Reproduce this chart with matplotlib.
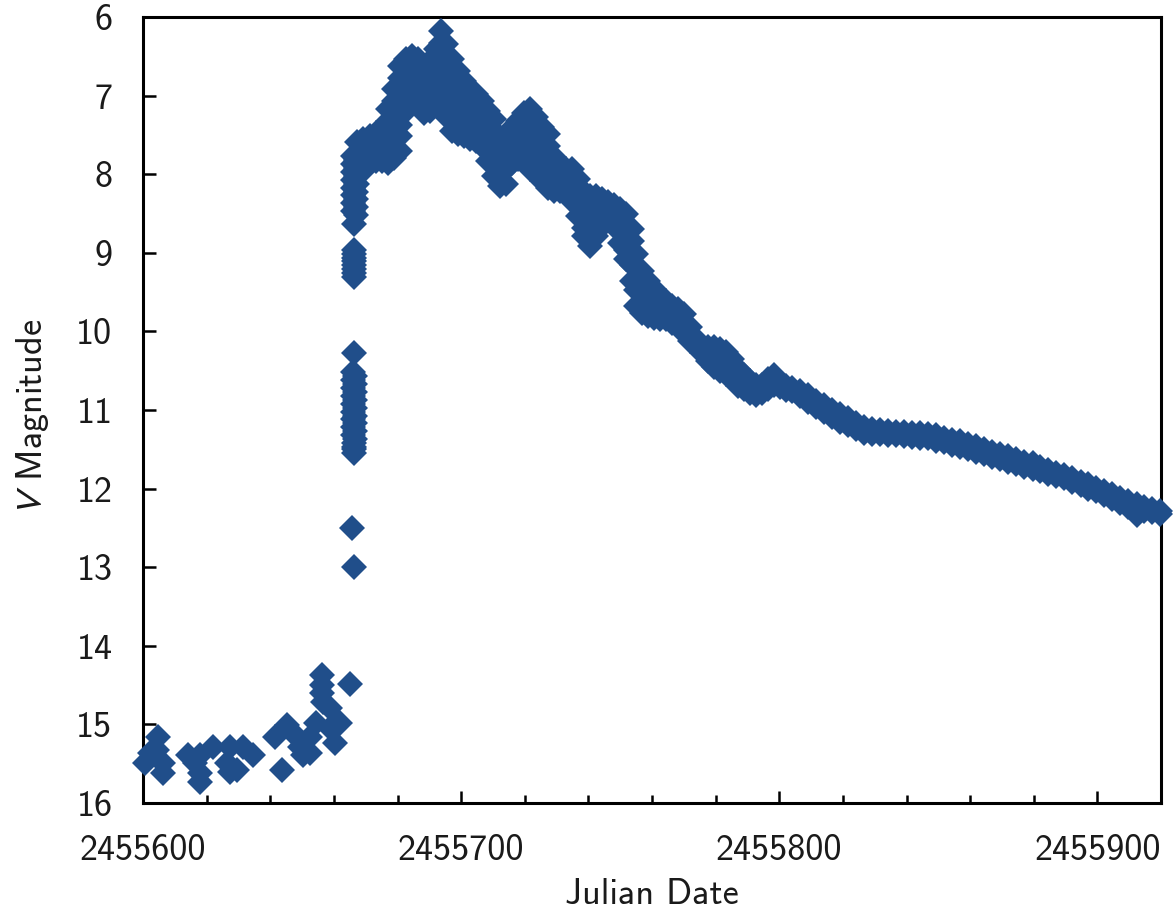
import numpy as np
import matplotlib
matplotlib.use("Agg")
import matplotlib.pyplot as plt
from matplotlib.ticker import MultipleLocator, FormatStrFormatter

# Light curve of the outburst, V band. Days are counted from JD 2455600.
JD_BASE = 2455600

# quiescence before the eruption
quiet_days = [0.6, 2.2, 4.4, 4.7, 6.3, 6.3,
              14.2, 16.4, 17.9, 17.9, 17.9, 22.0,
              26.4, 27.4, 27.4, 29.6, 31.4, 34.6,
              41.5, 43.7, 45.3, 48.4, 49.4, 50.3, 52.5, 52.5,
              56.3, 56.3, 56.3, 56.6, 58.8, 54.4, 58.8, 61.9, 60.4]
quiet_mag = [15.49, 15.36, 15.33, 15.16, 15.49, 15.62,
             15.39, 15.49, 15.39, 15.62, 15.73, 15.29,
             15.49, 15.29, 15.60, 15.58, 15.29, 15.39,
             15.16, 15.58, 15.01, 15.16, 15.29, 15.39, 15.36, 15.16,
             14.37, 14.50, 14.60, 14.71, 14.79, 14.98, 15.05, 14.98, 15.24]

# the fast rise (one night of dense coverage)
rise_days = [65.0, 66.3, 65.7, 66.3,
             66.0, 66.6, 66.0, 66.6, 66.0, 66.6, 66.0, 66.6, 66.0, 66.6, 66.0,
             66.6, 66.0, 66.6, 66.0, 66.6, 66.0, 66.6, 66.3,
             66.3, 66.3, 66.3, 66.3, 66.3, 66.3, 66.3, 66.3,
             66.0, 66.8, 66.0, 66.8, 66.0, 66.8, 66.0, 66.8, 66.0, 66.8,
             66.0, 66.8, 66.0, 66.8, 66.0, 66.8, 66.4]
rise_mag = [14.49, 13.00, 12.50, 10.27,
            10.52, 10.57, 10.62, 10.67, 10.72, 10.77, 10.82, 10.87, 10.92, 10.97, 11.02,
            11.07, 11.12, 11.17, 11.22, 11.27, 11.32, 11.37, 11.55, 
            8.96, 9.01, 9.06, 9.11, 9.16, 9.21, 9.26, 9.31,
            7.77, 7.82, 7.87, 7.92, 7.97, 8.02, 8.07, 8.12, 8.17, 8.22,
            8.27, 8.32, 8.37, 8.42, 8.47, 8.52, 8.63]
rise_days += [66.3, 66.3, 66.3]
rise_mag += [11.42, 11.47, 11.50]

# maximum and early decline: day -> magnitudes observed around that day
peak_obs = [
    (67.3, [7.59, 7.74, 7.89, 8.02, 8.12]),
    (69.2, [7.55, 7.70, 7.84, 7.96]),
    (71.4, [7.51, 7.66, 7.81]),
    (73.3, [7.48, 7.63, 7.77, 7.83]),
    (75.2, [7.45, 7.60, 7.72, 7.83]),
    (77.0, [7.17, 7.32, 7.47, 7.62, 7.76, 7.86]),
    (78.9, [6.92, 7.07, 7.22, 7.37, 7.52, 7.66, 7.79]),
    (80.8, [6.62, 6.77, 6.92, 7.07, 7.22, 7.37, 7.52, 7.70]),
    (82.7, [6.53, 6.68, 6.83, 6.98, 7.10, 7.20]),
    (84.6, [6.50, 6.65, 6.80, 6.95, 7.09]),
    (86.5, [6.53, 6.68, 6.83, 6.98, 7.11]),
    (88.4, [6.64, 6.79, 6.94, 7.09, 7.22]),
    (90.3, [6.56, 6.71, 6.86, 7.01, 7.20]),
    (92.1, [6.41, 6.56, 6.71, 6.88]),
    (93.7, [6.18, 6.33, 6.48, 6.62, 6.75]),
    (95.3, [6.34, 6.49, 6.64, 6.79, 6.94, 7.09, 7.26]),
    (97.2, [6.53, 6.68, 6.83, 6.98, 7.13, 7.28, 7.45]),
    (99.1, [6.69, 6.84, 6.99, 7.14, 7.29, 7.49]),
    (100.9, [6.81, 6.96, 7.11, 7.26, 7.41, 7.51]),
    (102.8, [6.92, 7.07, 7.22, 7.37, 7.55]),
    (104.7, [6.98, 7.13, 7.28, 7.43, 7.58]),
    (106.6, [7.07, 7.22, 7.37, 7.52, 7.64]),
    (108.5, [7.20, 7.35, 7.50, 7.65, 7.83]),
    (110.4, [7.30, 7.45, 7.60, 7.75, 7.90, 8.02]),
    (112.3, [7.55, 7.70, 7.85, 8.00, 8.15]),
    (114.2, [7.49, 7.64, 7.79, 7.94, 8.12]),
    (116.0, [7.42, 7.57, 7.72, 7.86]),
    (117.9, [7.32, 7.47, 7.62, 7.81]),
    (119.8, [7.22, 7.37, 7.52, 7.67, 7.83]),
    (121.7, [7.17, 7.32, 7.47, 7.62, 7.77, 7.93]),
    (123.6, [7.27, 7.42, 7.57, 7.72, 7.87, 8.00]),
    (125.5, [7.40, 7.55, 7.70, 7.85, 8.00, 8.09]),
    (127.4, [7.49, 7.64, 7.79, 7.94, 8.09, 8.18]),
    (129.2, [7.78, 7.93, 8.08, 8.21]),
    (131.1, [7.87, 8.02, 8.21]),
    (133.0, [7.93, 8.08, 8.25]),
    (134.9, [7.93, 8.08, 8.23, 8.34]),
    (136.8, [8.06, 8.21, 8.36, 8.53]),
    (138.7, [8.23, 8.38, 8.53, 8.68, 8.79]),
    (140.6, [8.28, 8.43, 8.58, 8.73, 8.91]),
    (142.5, [8.28, 8.43, 8.58, 8.79]),
    (144.3, [8.32, 8.47, 8.66]),
    (146.2, [8.35, 8.47, 8.57]),
    (148.1, [8.39, 8.51, 8.62]),
    (150.0, [8.44, 8.59, 8.74, 8.88]),
    (151.9, [8.51, 8.66, 8.81, 8.96, 9.08]),
    (153.8, [8.70, 8.85, 9.00, 9.15, 9.36]),
    (155.0, [9.02, 9.17, 9.32, 9.47, 9.68]),
    (156.9, [9.23, 9.38, 9.53, 9.77]),
    (158.8, [9.36, 9.51, 9.66, 9.80]),
    (160.7, [9.46, 9.61, 9.83]),
    (162.6, [9.55, 9.70, 9.84]),
    (164.5, [9.61, 9.72, 9.84]),
    (166.4, [9.68, 9.79, 9.89]),
    (168.2, [9.71, 9.82, 9.93]),
    (170.1, [9.78, 9.90, 10.02]),
    (172.0, [9.94, 10.12]),
    (173.9, [10.10, 10.19]),
    (175.8, [10.19, 10.27]),
    (177.7, [10.20, 10.38]),
    (179.6, [10.20, 10.32, 10.45]),
    (181.4, [10.22, 10.36, 10.50]),
    (183.3, [10.26, 10.40, 10.54]),
    (185.2, [10.35, 10.48, 10.61]),
    (187.1, [10.48, 10.59, 10.69]),
    (189.0, [10.55, 10.64, 10.73]),
    (190.9, [10.63, 10.78]),
    (192.8, [10.68, 10.81]),
    (194.7, [10.68, 10.78]),
    (196.5, [10.61, 10.73]),
    (198.4, [10.55, 10.68]),
    (200.3, [10.66, 10.71]),
    (202.2, [10.70, 10.74]),
    (204.1, [10.72, 10.76]),
    (206.6, [10.76, 10.82]),
]

# slow late decline: bright and faint end of the scatter
tail_days = [209.1, 211.6, 214.2, 216.7, 219.2, 221.7, 224.2, 226.7, 229.2, 231.8,
             234.3, 236.8, 239.3, 241.8, 244.3, 246.9, 249.4, 251.9, 254.4, 256.9,
             259.4, 261.9, 264.5, 267.0, 269.5, 272.0, 274.5, 277.0, 279.6, 282.1,
             284.6, 287.1, 289.6, 292.1, 294.7, 297.2, 299.7, 302.2, 304.7, 307.2,
             309.7, 312.3, 314.8, 317.3, 319.8]
tail_bright = [10.81, 10.88, 10.94, 11.00, 11.05, 11.10, 11.16, 11.21, 11.24, 11.25,
               11.27, 11.28, 11.28, 11.29, 11.29, 11.30, 11.32, 11.35, 11.38, 11.40,
               11.43, 11.46, 11.49, 11.53, 11.56, 11.59, 11.62, 11.66, 11.68, 11.72,
               11.76, 11.80, 11.83, 11.87, 11.91, 11.94, 11.99, 12.03, 12.07, 12.12,
               12.16, 12.20, 12.24, 12.26, 12.28]
tail_faint = [10.90, 10.96, 11.02, 11.09, 11.15, 11.19, 11.24, 11.29, 11.30, 11.31,
              11.32, 11.32, 11.33, 11.34, 11.35, 11.36, 11.39, 11.41, 11.44, 11.47,
              11.49, 11.53, 11.56, 11.60, 11.62, 11.66, 11.69, 11.72, 11.75, 11.78,
              11.81, 11.84, 11.87, 11.92, 11.96, 12.00, 12.03, 12.08, 12.13, 12.18,
              12.24, 12.33, 12.29, 12.30, 12.32]

# collect everything into one series
days = list(quiet_days) + list(rise_days)
mags = list(quiet_mag) + list(rise_mag)
for d, ms in peak_obs:
    days += [d] * len(ms)
    mags += ms
days += tail_days + tail_days
mags += tail_bright + tail_faint
jd = JD_BASE + np.array(days)
mags = np.array(mags)

plt.rcParams['font.family'] = ['cmss10', 'DejaVu Sans']
plt.rcParams['mathtext.fontset'] = 'stixsans'
plt.rcParams['axes.unicode_minus'] = False
text_col = '#1a1a1a'

fig = plt.figure(figsize=(11.73, 9.14), dpi=100)
ax = fig.add_axes([0.1219, 0.1214, 0.8679, 0.8600])

ax.plot(jd, mags, linestyle='none', marker='D', markersize=13,
        markeredgewidth=0, color='#204e8a', clip_on=False, zorder=3)

ax.set_xlim(2455600, 2455920)
ax.set_ylim(16, 6)
ax.xaxis.set_major_locator(MultipleLocator(100))
ax.xaxis.set_minor_locator(MultipleLocator(20))
ax.xaxis.set_major_formatter(FormatStrFormatter('%d'))
ax.yaxis.set_major_locator(MultipleLocator(1))

for s in ax.spines.values():
    s.set_linewidth(2.2)
    s.set_color('black')

ax.tick_params(axis='both', which='major', direction='in', length=9, width=1.8,
               labelsize=26, colors='black', labelcolor=text_col)
ax.tick_params(axis='both', which='minor', direction='in', length=6, width=1.8)
ax.tick_params(axis='x', which='major', pad=22)
ax.tick_params(axis='y', which='major', pad=22)

ax.set_xlabel('Julian Date', fontsize=26, color=text_col, labelpad=8)
ax.set_ylabel('$V$ Magnitude', fontsize=26, color=text_col)
ax.yaxis.set_label_coords(-0.09, 0.49)

fig.savefig('out.png', dpi=100)
